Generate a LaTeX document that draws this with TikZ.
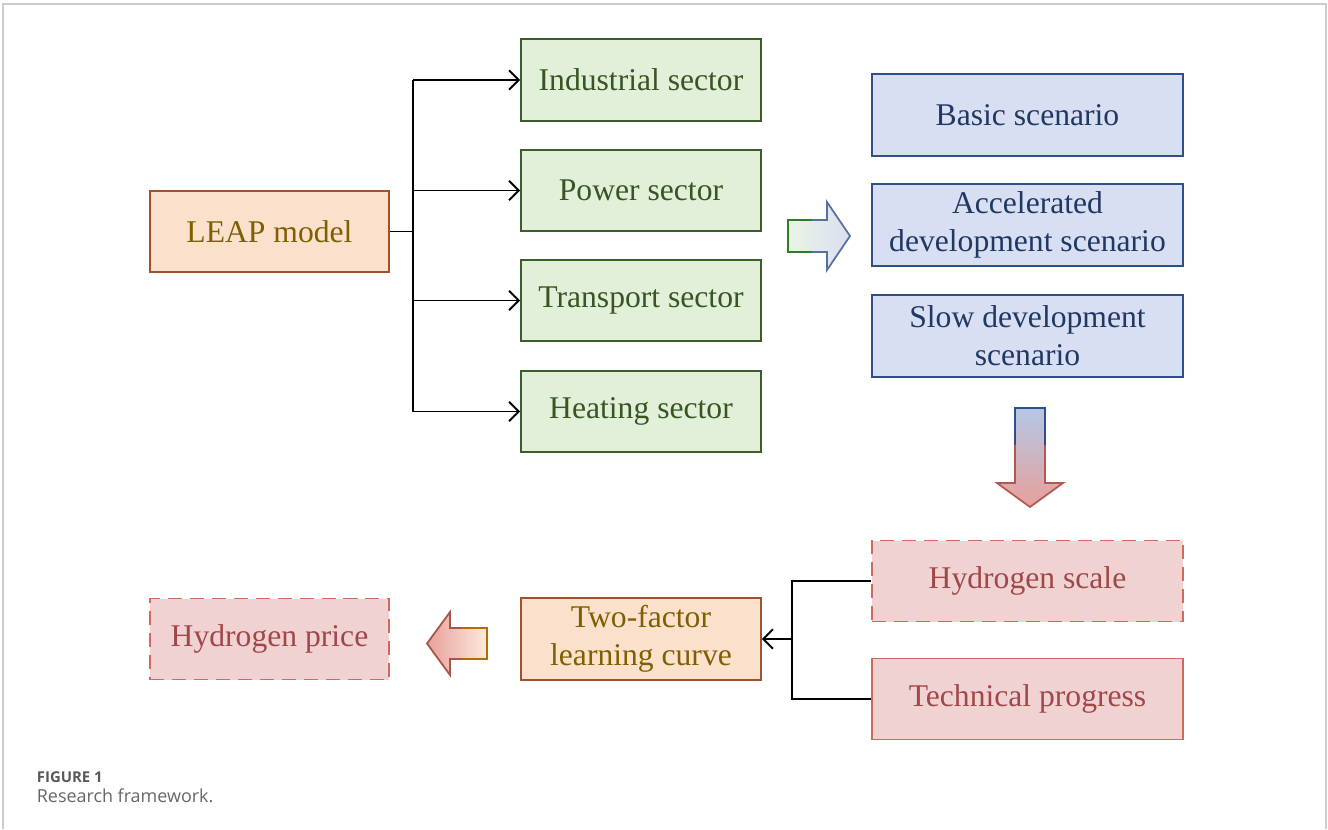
\documentclass[tikz,border=0pt]{standalone}
\usepackage{fontspec}
\setmainfont{Liberation Serif}
\newfontfamily\capfont{Open Sans}
\usepackage{tikz}
\usetikzlibrary{arrows.meta}

\definecolor{peachfill}{HTML}{FBE0CC}
\definecolor{peachdraw}{HTML}{A0522D}
\definecolor{peachtext}{HTML}{7F6000}
\definecolor{greenfill}{HTML}{E2EFD9}
\definecolor{greendraw}{HTML}{3B5E2B}
\definecolor{greentext}{HTML}{375623}
\definecolor{bluefill}{HTML}{D9DFF2}
\definecolor{bluedraw}{HTML}{2F4E8A}
\definecolor{bluetext}{HTML}{203864}
\definecolor{redfill}{HTML}{F0D2D3}
\definecolor{reddraw}{HTML}{D0695E}
\definecolor{redtext}{HTML}{A04848}
\definecolor{arrowblue}{HTML}{B4C7E7}
\definecolor{arrowred}{HTML}{E8A09A}
\definecolor{framegray}{HTML}{CCCCCC}

\begin{document}
\begin{tikzpicture}[x=0.02cm,y=-0.02cm,line width=1pt]
                \tikzstyle{box}=[rectangle,line width=1.1pt,inner sep=0pt,align=center,font=\fontsize{18}{21.5}\selectfont]
                \tikzstyle{leapbox}=[box,draw=peachdraw,fill=peachfill,text=peachtext,minimum width=4.78cm,minimum height=1.63cm]
                \tikzstyle{sectorbox}=[box,draw=greendraw,fill=greenfill,text=greentext,minimum width=4.8cm,minimum height=1.63cm]
                \tikzstyle{scenebox}=[box,draw=bluedraw,fill=bluefill,text=bluetext,minimum width=6.22cm,minimum height=1.63cm]
                \tikzstyle{pricebox}=[box,draw=reddraw,fill=redfill,text=redtext,minimum width=6.22cm,minimum height=1.62cm]
                \tikzstyle{dashbox}=[dash pattern=on 8pt off 4.5pt]
                \tikzstyle{link}=[black,line width=1.1pt]
                \tikzstyle{tip}=[-{Straight Barb[length=5.5pt,width=11pt]}]

                \useasboundingbox (0,0) rectangle (1328,829);
                \draw[framegray,line width=1.2pt] (3,829) -- (3,4) -- (1326,4) -- (1326,829);

                % LEAP model and sectors
                \node[leapbox] (L) at (269.5,231.5) {LEAP model};
                \foreach \num/\y/\txt in {1/80/Industrial sector, 2/190.5/Power sector, 3/300.5/Transport sector, 4/411.5/Heating sector}
                        \node[sectorbox] (S-\num) at (641,\y) {\txt};

                \coordinate (J) at (413,231.5);
                \draw[link] (L.east) -- (J);
                \draw[link] (S-1.west -| J) -- (S-4.west -| J);
                \foreach \num in {1,...,4}
                        \draw[link,tip] (S-\num.west -| J) -- (S-\num.west);

                % scenarios
                \foreach \num/\y/\txt in {1/115/{Basic scenario}, 2/225/{Accelerated\\development scenario}, 3/336/{Slow development\\scenario}}
                        \node[scenebox] (C-\num) at (1027.5,\y) {\txt};

                % learning curve part
                \node[pricebox,dashbox] (H-1) at (1027.5,581) {Hydrogen scale};
                \node[pricebox] (H-2) at (1027.5,699) {Technical progress};
                \node[leapbox,minimum width=4.8cm] (T) at (641,639) {Two-factor\\learning curve};
                \node[pricebox,dashbox,minimum width=4.78cm] (P) at (269.5,639) {Hydrogen price};

                \coordinate (K) at (792,639);
                \draw[link] (H-1.west) -- (H-1.west -| K) -- (H-2.west -| K) -- (H-2.west);
                \draw[link,tip] (K) -- (T.east);

                % block arrows
                \shade[left color=greenfill!70!white,right color=bluefill] (788,220) -- (827,220) -- (827,202) -- (850,236) -- (827,270) -- (827,252) -- (788,252) -- cycle;
                \draw[bluedraw!80!white,line width=1pt] (788,220) -- (827,220) -- (827,202) -- (850,236) -- (827,270) -- (827,252) -- (788,252) -- cycle;
                \begin{scope}
                        \clip (780,195) rectangle (812,280);
                        \draw[greendraw!80!green,line width=1pt] (788,220) -- (827,220) (827,252) -- (788,252) -- (788,220);
                \end{scope}

                \shade[top color=arrowblue,bottom color=arrowred] (1015,408) -- (1045,408) -- (1045,483) -- (1063,483) -- (1030,507) -- (997,483) -- (1015,483) -- cycle;
                \draw[reddraw!85!black,line width=1pt] (1015,408) -- (1045,408) -- (1045,483) -- (1063,483) -- (1030,507) -- (997,483) -- (1015,483) -- cycle;
                \begin{scope}
                        \clip (990,400) rectangle (1070,445);
                        \draw[bluedraw,line width=1pt] (1015,445) -- (1015,408) -- (1045,408) -- (1045,445);
                \end{scope}

                \shade[left color=arrowred,right color=peachfill!70!white] (487,628) -- (450,628) -- (450,612) -- (427,643.5) -- (450,675) -- (450,659) -- (487,659) -- cycle;
                \draw[reddraw!80!black,line width=1pt] (487,628) -- (450,628) -- (450,612) -- (427,643.5) -- (450,675) -- (450,659) -- (487,659) -- cycle;
                \begin{scope}
                        \clip (462,600) rectangle (495,680);
                        \draw[peachtext!60!orange,line width=1pt] (450,628) -- (487,628) -- (487,659) -- (450,659);
                \end{scope}

                % caption
                \node[anchor=base west,inner sep=0pt,text=black!65,font=\capfont\bfseries\fontsize{8.5}{10}\selectfont] (fig) at (36,782) {FIGURE 1};
                \node[anchor=base west,inner sep=0pt,text=black!60,font=\capfont\fontsize{10.2}{12}\selectfont] (cap) at (36,802) {Research framework.};
\end{tikzpicture}
\end{document}
